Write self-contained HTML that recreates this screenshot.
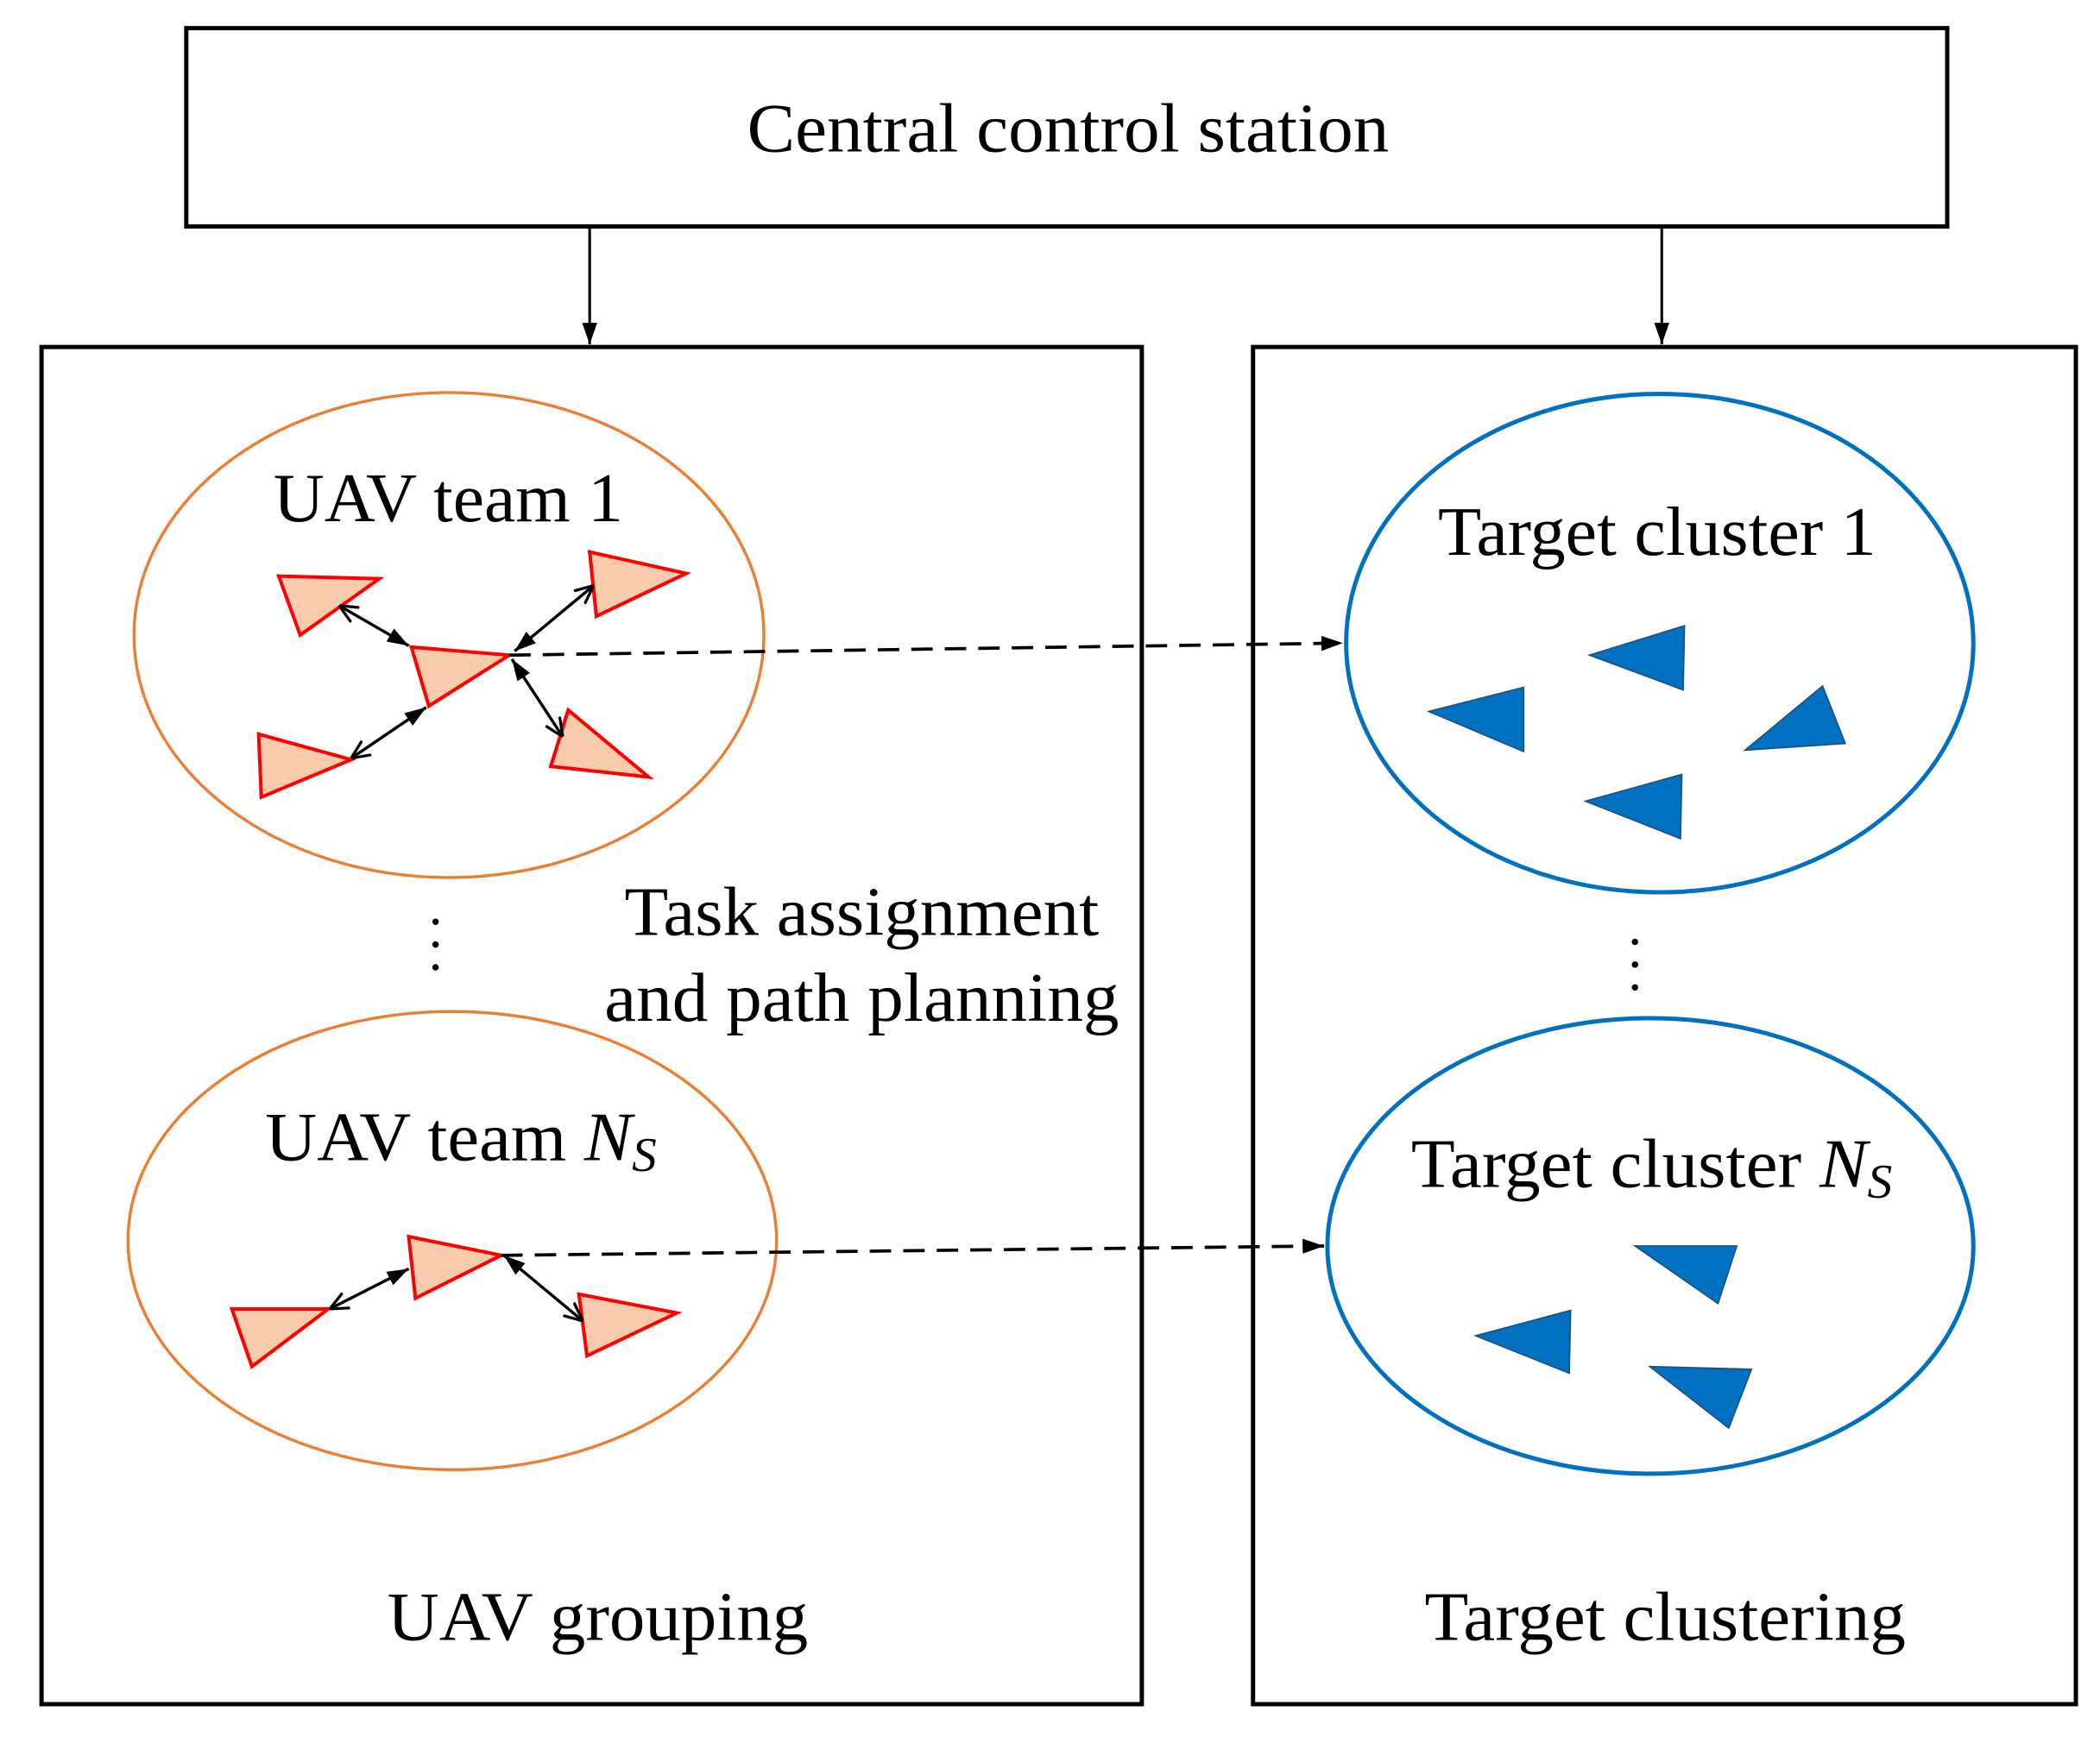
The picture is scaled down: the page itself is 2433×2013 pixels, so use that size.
<!DOCTYPE html>
<html><head><meta charset="utf-8"><style>
html,body{margin:0;padding:0;background:#fff;}
svg{display:block;}
text{font-family:"Liberation Serif","Times New Roman",serif;fill:#000;}
</style></head><body>
<svg width="2433" height="2013" viewBox="0 0 1567 1296.5" preserveAspectRatio="none" xmlns="http://www.w3.org/2000/svg">
<defs>
<marker id="ao" viewBox="0 0 10 10" refX="10" refY="5" markerWidth="14" markerHeight="14" markerUnits="userSpaceOnUse" orient="auto-start-reverse"><path d="M0,0.5 L10,5 L0,9.5" fill="none" stroke="#000" stroke-width="1.5"/></marker>
<marker id="af" viewBox="0 0 10 10" refX="10" refY="5" markerWidth="16" markerHeight="16" markerUnits="userSpaceOnUse" orient="auto-start-reverse"><path d="M0,1.5 L10,5 L0,8.5 z" fill="#000"/></marker>
</defs>
<rect x="139" y="21" width="1314" height="148" fill="none" stroke="#000" stroke-width="3.2"/>
<text x="797" y="113" font-size="52" text-anchor="middle" textLength="479" lengthAdjust="spacingAndGlyphs">Central control station</text>
<line x1="440" y1="170" x2="440" y2="257" stroke="#000" stroke-width="2" marker-end="url(#af)"/>
<line x1="1240" y1="170" x2="1240" y2="257" stroke="#000" stroke-width="2" marker-end="url(#af)"/>
<rect x="31" y="259" width="821" height="1013" fill="none" stroke="#000" stroke-width="3.2"/>
<rect x="935" y="259" width="614" height="1013" fill="none" stroke="#000" stroke-width="3.2"/>
<ellipse cx="335" cy="474" rx="235" ry="181" fill="none" stroke="#ED7D31" stroke-width="2.2"/>
<ellipse cx="337.5" cy="926" rx="242" ry="171" fill="none" stroke="#ED7D31" stroke-width="2.2"/>
<ellipse cx="1238.5" cy="480" rx="234" ry="186" fill="none" stroke="#0070C0" stroke-width="3.2"/>
<ellipse cx="1231.5" cy="930" rx="241" ry="170" fill="none" stroke="#0070C0" stroke-width="3.2"/>
<text x="204" y="389" font-size="52" textLength="261" lengthAdjust="spacingAndGlyphs">UAV team 1</text>
<text x="198" y="866" font-size="52" textLength="292" lengthAdjust="spacingAndGlyphs">UAV team <tspan font-style="italic">N</tspan><tspan font-style="italic" font-size="36" dy="8">S</tspan></text>
<text x="466" y="698" font-size="52" textLength="354" lengthAdjust="spacingAndGlyphs">Task assignment</text>
<text x="451" y="762" font-size="52" textLength="384" lengthAdjust="spacingAndGlyphs">and path planning</text>
<text x="289" y="1224" font-size="52" textLength="314" lengthAdjust="spacingAndGlyphs">UAV grouping</text>
<text x="1073" y="414" font-size="52" textLength="327" lengthAdjust="spacingAndGlyphs">Target cluster 1</text>
<text x="1053" y="886" font-size="52" textLength="359" lengthAdjust="spacingAndGlyphs">Target cluster <tspan font-style="italic">N</tspan><tspan font-style="italic" font-size="36" dy="8">S</tspan></text>
<text x="1063" y="1224" font-size="52" textLength="359" lengthAdjust="spacingAndGlyphs">Target clustering</text>
<g fill="#000"><circle cx="325" cy="688" r="2.4"/><circle cx="325" cy="705" r="2.4"/><circle cx="325" cy="722" r="2.4"/>
<circle cx="1220" cy="703" r="2.4"/><circle cx="1220" cy="720" r="2.4"/><circle cx="1220" cy="737" r="2.4"/></g>
<g fill="#F8CBAD" stroke="#FF0000" stroke-width="2.6">
<polygon points="208,430 283,432 224,474"/>
<polygon points="440,412 512,428 445,460"/>
<polygon points="307,483 380,489 320,527"/>
<polygon points="193,548 262,567 195,595"/>
<polygon points="411,572 424,530 484,580"/>
<polygon points="173,977 245,977 188,1020"/>
<polygon points="305,923 374,937 310,969"/>
<polygon points="432,966 505,980 438,1012"/>
</g>
<g stroke="#000" stroke-width="2.2" fill="none">
<line x1="384" y1="486" x2="443" y2="437" marker-start="url(#af)" marker-end="url(#ao)"/>
<line x1="253" y1="452" x2="305" y2="482" marker-start="url(#ao)" marker-end="url(#af)"/>
<line x1="262" y1="566" x2="318" y2="528" marker-start="url(#ao)" marker-end="url(#af)"/>
<line x1="382" y1="492" x2="420" y2="550" marker-start="url(#af)" marker-end="url(#ao)"/>
<line x1="246" y1="977" x2="305" y2="947" marker-start="url(#ao)" marker-end="url(#af)"/>
<line x1="376" y1="937" x2="435" y2="986" marker-start="url(#af)" marker-end="url(#ao)"/>
</g>
<line x1="380" y1="489" x2="1002" y2="480" stroke="#000" stroke-width="2.4" stroke-dasharray="16,9" marker-end="url(#af)"/>
<line x1="374" y1="937" x2="988" y2="930" stroke="#000" stroke-width="2.4" stroke-dasharray="16,9" marker-end="url(#af)"/>
<g fill="#0070C0" stroke="#1F4E79" stroke-width="1">
<polygon points="1186,489 1257,467 1256,515"/>
<polygon points="1066,531 1137,513 1137,561"/>
<polygon points="1302,560 1360,512 1377,555"/>
<polygon points="1183,598 1255,578 1254,626"/>
<polygon points="1220,930 1296,930 1282,973"/>
<polygon points="1101,997 1172,978 1171,1025"/>
<polygon points="1231,1020 1307,1022 1290,1066"/>
</g>
</svg>
</body></html>
